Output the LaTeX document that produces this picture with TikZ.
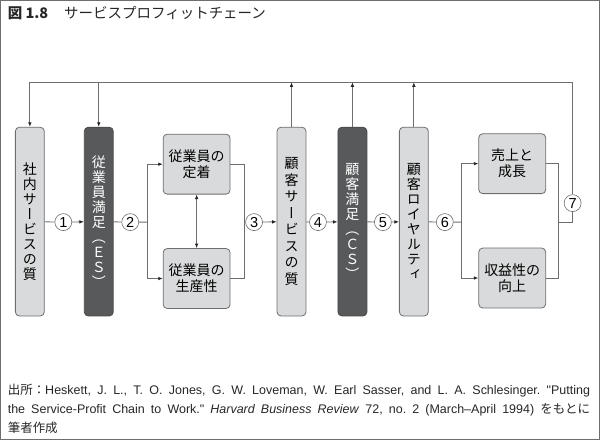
\documentclass[tikz,border=0pt]{standalone}
\usepackage{fontspec}
\setmainfont{Liberation Sans}
\newfontfamily\jp{Noto Sans CJK JP}
\newfontfamily\jpv[RawFeature=+vert]{Noto Sans CJK JP}
\usetikzlibrary{arrows.meta}
\definecolor{linegray}{HTML}{6D6E70}
\definecolor{boxlight}{HTML}{D9DADB}
\definecolor{boxdark}{HTML}{58595B}
\frenchspacing

\begin{document}
\begin{tikzpicture}[x=1pt, y=-1pt, line width=0.8pt, draw=linegray,
    every path/.style={draw=linegray},
    >={Latex[length=4.5pt,width=3.6pt,color=black!85]},
    tall/.style = {draw=linegray, fill=boxlight, rounded corners=4pt, minimum width=29pt, minimum height=189pt, inner sep=0pt, align=center, font=\jpv\fontsize{14}{15}\selectfont},
    talldark/.style = {tall, fill=boxdark, draw=boxdark!80!black, text=white},
    wide/.style = {draw=linegray, fill=boxlight, rounded corners=4pt, minimum width=67pt, minimum height=60pt, inner sep=0pt, align=center, font=\jp\fontsize{14}{16}\selectfont},
    num/.style = {draw=linegray, line width=0.6pt, fill=white, circle, minimum size=17pt, inner sep=0pt, font=\fontsize{14.5}{14.5}\selectfont}]
    \useasboundingbox (0,0) rectangle (600,440);

    % title
    \node[anchor=west, inner sep=0pt, text=black!85] (title) at (7,13) {\jp\fontsize{14.5}{15}\selectfont\textbf{図 1.8}\hspace{1.1em}サービスプロフィットチェーン};

    % chain
    \node[tall] (b1) at (29.5,221.5) {社\\内\\サ\\ー\\ビ\\ス\\の\\質};
    \node[talldark] (b2) at (98.5,221.5) {従\\業\\員\\満\\足\\（\\Ｅ\\Ｓ\\）};
    \node[wide] (w1) at (196.5,164) {従業員の\\定着};
    \node[wide] (w2) at (196.5,278.5) {従業員の\\生産性};
    \node[tall, font=\jpv\fontsize{14}{16.5}\selectfont] (b4) at (291.5,221.5) {顧\\客\\サ\\ー\\ビ\\ス\\の\\質};
    \node[talldark] (b5) at (352.5,221.5) {顧\\客\\満\\足\\（\\Ｃ\\Ｓ\\）};
    \node[tall] (b6) at (414,221.5) {顧\\客\\ロ\\イ\\ヤ\\ル\\テ\\ィ};
    \node[wide] (w3) at (512.5,163.5) {売上と\\成長};
    \node[wide] (w4) at (512.5,278) {収益性の\\向上};

    \node[num] (c1) at (63,222) {1};
    \node[num] (c2) at (130,222) {2};
    \node[num] (c3) at (254,222) {3};
    \node[num] (c4) at (318,222) {4};
    \node[num] (c5) at (383,222) {5};
    \node[num] (c6) at (445,222) {6};
    \node[num] (c7) at (573,203) {7};

    \coordinate (top) at (0,82);
    \coordinate (j2) at (147,222);
    \coordinate (j3) at (244,222);
    \coordinate (j6) at (462,222);
    \coordinate (j7) at (559,222);

    \draw (b1) -- (c1);
    \draw[->] (c1) -- (b2);
    \draw (b2) -- (c2) -- (j2);
    \draw[->] (j2) |- (w1.west);
    \draw[->] (j2) |- (w2.west);
    \draw[<->] (w1) -- (w2);
    \draw (w1.east) -| (j3) |- (w2.east);
    \draw (j3) -- (c3);
    \draw[->] (c3) -- (b4);
    \draw (b4) -- (c4);
    \draw[->] (c4) -- (b5);
    \draw (b5) -- (c5);
    \draw[->] (c5) -- (b6);
    \draw (b6) -- (c6) -- (j6);
    \draw[->] (j6) |- (w3.west);
    \draw[->] (j6) |- (w4.west);
    \draw (w3.east) -| (j7) |- (w4.east);
    \draw (j7) -| (c7.south);

    % feedback loop
    \draw[->] (c7.north) -- (c7.north |- top) -| (b1.north);
    \draw[->] (b2.north |- top) -- (b2.north);
    \draw[->] (b4.north) -- (b4.north |- top);
    \draw[->] (b5.north) -- (b5.north |- top);
    \draw[->] (b6.north) -- (b6.north |- top);

    % source
    \node[anchor=north west, inner sep=0pt, text width=583pt, align=justify, text=black!85, font=\fontsize{12.5}{19}\selectfont] (src) at (7,384)
      {{\jp 出所：}Heskett, J. L., T. O. Jones, G. W. Loveman, W. Earl Sasser, and L. A. Schlesinger. \textquotedbl Putting\linebreak
       the Service-Profit Chain to Work.\textquotedbl{} \textit{Harvard Business Review} 72, no. 2 (March–April 1994) {\jp をもとに}\linebreak
       {\jp 筆者作成}};
\end{tikzpicture}
\end{document}
